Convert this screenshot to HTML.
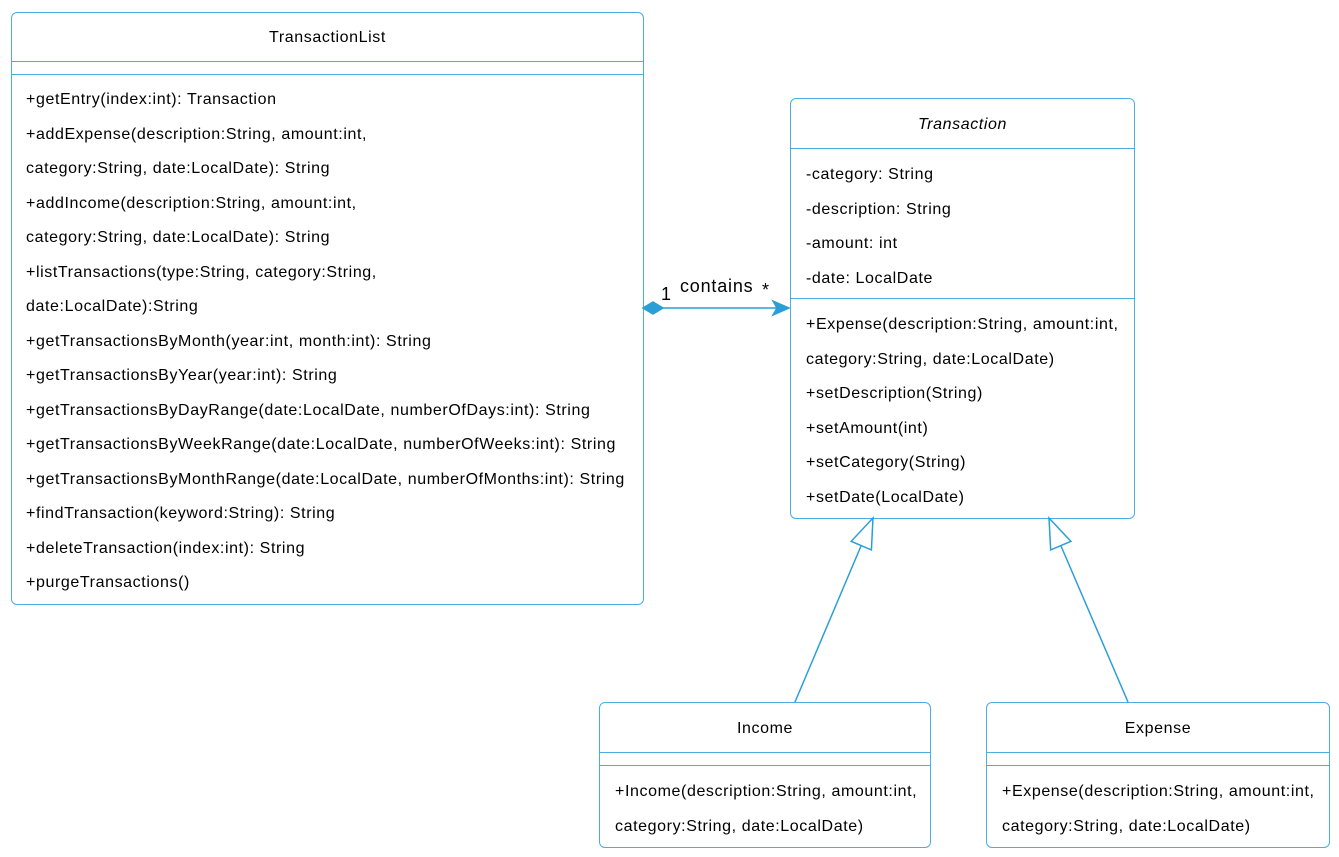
<!DOCTYPE html>
<html><head><style>
body{margin:0;width:1339px;height:857px;background:#fff;position:relative;font-family:"Liberation Sans",Arial,sans-serif;font-size:16px;letter-spacing:0.6px;color:#000;overflow:hidden}
.b{position:absolute;border:1.3px solid #4aaee0;border-radius:6px;box-sizing:border-box}
.t{position:absolute;white-space:nowrap}
.l{position:absolute;height:0;border-top:1.3px solid #4aaee0}
</style></head><body>
<div class="b" style="left:11px;top:12px;width:633px;height:593px"></div>
<div class="l" style="left:11px;top:61px;width:633px"></div>
<div class="l" style="left:11px;top:74px;width:633px"></div>
<div class="t" style="left:11px;width:633px;text-align:center;top:29px">TransactionList</div>
<div class="t" style="left:26px;top:83px;line-height:34.5px">+getEntry(index:int): Transaction<br>+addExpense(description:String, amount:int,<br>category:String, date:LocalDate): String<br>+addIncome(description:String, amount:int,<br>category:String, date:LocalDate): String<br>+listTransactions(type:String, category:String,<br>date:LocalDate):String<br>+getTransactionsByMonth(year:int, month:int): String<br>+getTransactionsByYear(year:int): String<br>+getTransactionsByDayRange(date:LocalDate, numberOfDays:int): String<br>+getTransactionsByWeekRange(date:LocalDate, numberOfWeeks:int): String<br>+getTransactionsByMonthRange(date:LocalDate, numberOfMonths:int): String<br>+findTransaction(keyword:String): String<br>+deleteTransaction(index:int): String<br>+purgeTransactions()</div>

<div class="b" style="left:790px;top:98px;width:345px;height:421px"></div>
<div class="l" style="left:790px;top:148px;width:345px"></div>
<div class="l" style="left:790px;top:298px;width:345px"></div>
<div class="t" style="left:790px;width:345px;text-align:center;top:116px;font-style:italic">Transaction</div>
<div class="t" style="left:806px;top:158px;line-height:34.5px">-category: String<br>-description: String<br>-amount: int<br>-date: LocalDate</div>
<div class="t" style="left:806px;top:308px;line-height:34.5px">+Expense(description:String, amount:int,<br>category:String, date:LocalDate)<br>+setDescription(String)<br>+setAmount(int)<br>+setCategory(String)<br>+setDate(LocalDate)</div>

<div class="b" style="left:599px;top:702px;width:332px;height:146px"></div>
<div class="l" style="left:599px;top:752px;width:332px"></div>
<div class="l" style="left:599px;top:765px;width:332px"></div>
<div class="t" style="left:599px;width:332px;text-align:center;top:720px">Income</div>
<div class="t" style="left:615px;top:775px;line-height:34.5px">+Income(description:String, amount:int,<br>category:String, date:LocalDate)</div>

<div class="b" style="left:986px;top:702px;width:344px;height:146px"></div>
<div class="l" style="left:986px;top:752px;width:344px"></div>
<div class="l" style="left:986px;top:765px;width:344px"></div>
<div class="t" style="left:986px;width:344px;text-align:center;top:720px">Expense</div>
<div class="t" style="left:1002px;top:775px;line-height:34.5px">+Expense(description:String, amount:int,<br>category:String, date:LocalDate)</div>

<svg width="1339" height="857" style="position:absolute;left:0;top:0">
<g stroke="#2a9fd6" stroke-width="1.5" fill="none">
<line x1="662" y1="308" x2="788" y2="308"/>
<polygon points="643,308 653,302 663,308 653,314" fill="#2a9fd6"/>
<path d="M773,301 L789,308 L773,315 L777,308 Z" fill="#2a9fd6"/>
<line x1="795" y1="702" x2="861" y2="546"/>
<polygon points="873,518 871.4,549.9 851.2,541.3" fill="#fff"/>
<line x1="1128" y1="702" x2="1061" y2="546"/>
<polygon points="1049,518 1070.9,541.3 1050.7,549.9" fill="#fff"/>
</g>
<text x="661" y="300" font-family="Liberation Sans,Arial,sans-serif" font-size="18">1</text>
<text x="680" y="292" font-family="Liberation Sans,Arial,sans-serif" font-size="18" letter-spacing="0.8">contains</text>
<text x="762" y="296" font-family="Liberation Sans,Arial,sans-serif" font-size="18">*</text>
</svg>
</body></html>
